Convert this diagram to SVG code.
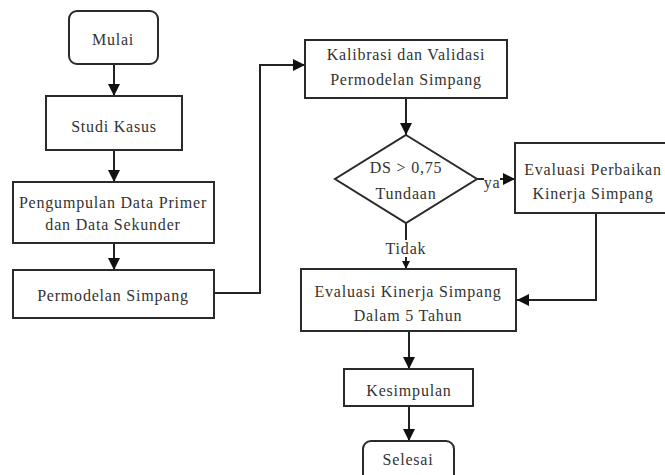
<svg xmlns="http://www.w3.org/2000/svg" width="665" height="475" viewBox="0 0 665 475">
<style>
.box{fill:#fff;stroke:#2a2a2a;stroke-width:2}
.ln{fill:none;stroke:#222;stroke-width:2}
.t{font-family:"Liberation Serif","Times New Roman",serif;font-size:16px;letter-spacing:0.8px;fill:#333;text-anchor:middle}
</style>
<defs>
<marker id="ah" viewBox="0 0 12 12" refX="12" refY="6" markerWidth="12" markerHeight="12" markerUnits="userSpaceOnUse" orient="auto">
<path d="M0,0 L12,6 L0,12 Z" fill="#111"/>
</marker>
<marker id="ahs" viewBox="0 0 8 8" refX="8" refY="4" markerWidth="8" markerHeight="8" markerUnits="userSpaceOnUse" orient="auto">
<path d="M0,0 L8,4 L0,8 Z" fill="#111"/>
</marker>
</defs>
<rect width="665" height="475" fill="#fff"/>
<g id="connectors">
<path class="ln" d="M114,64 V96" marker-end="url(#ah)"/>
<path class="ln" d="M114,150 V182" marker-end="url(#ah)"/>
<path class="ln" d="M114,243 V270" marker-end="url(#ah)"/>
<path class="ln" d="M214,293 H260 V65 H305" marker-end="url(#ah)"/>
<path class="ln" d="M406,98 V135" marker-end="url(#ah)"/>
<path class="ln" d="M477,179 H515" marker-end="url(#ah)"/>
<path class="ln" d="M406,223 V269" marker-end="url(#ahs)"/>
<path class="ln" d="M596,213 V300 H517" marker-end="url(#ah)"/>
<path class="ln" d="M409,331 V369" marker-end="url(#ah)"/>
<path class="ln" d="M409,406 V441" marker-end="url(#ah)"/>
<rect x="484" y="172" width="16" height="18" fill="#fff"/>
<text class="t" x="492" y="188">ya</text>
<rect x="384" y="240" width="44" height="17" fill="#fff"/>
<text class="t" x="406" y="254">Tidak</text>
</g>
<g id="mulai"><rect class="box" x="69" y="11" width="89" height="53" rx="8"/><text class="t" x="113" y="45">Mulai</text></g>
<g id="studi"><rect class="box" x="46" y="96" width="136" height="54"/><text class="t" x="114" y="132">Studi Kasus</text></g>
<g id="pengumpulan"><rect class="box" x="13" y="182" width="201" height="61"/><text class="t" x="113" y="208">Pengumpulan Data Primer</text><text class="t" x="113" y="230">dan Data Sekunder</text></g>
<g id="permodelan"><rect class="box" x="13" y="270" width="201" height="48"/><text class="t" x="113" y="301">Permodelan Simpang</text></g>
<g id="kalibrasi"><rect class="box" x="305" y="40" width="202" height="58"/><text class="t" x="406" y="60">Kalibrasi dan Validasi</text><text class="t" x="406" y="85">Permodelan Simpang</text></g>
<g id="decision"><polygon class="box" points="406,135 477,179 406,223 335,179"/><text class="t" x="406" y="173">DS &gt; 0,75</text><text class="t" x="406" y="199">Tundaan</text></g>
<g id="perbaikan"><rect class="box" x="515" y="143" width="160" height="70"/><text class="t" x="593" y="175">Evaluasi Perbaikan</text><text class="t" x="593" y="199">Kinerja Simpang</text></g>
<g id="kinerja"><rect class="box" x="301" y="269" width="215" height="62"/><text class="t" x="408" y="297">Evaluasi Kinerja Simpang</text><text class="t" x="408" y="321">Dalam 5 Tahun</text></g>
<g id="kesimpulan"><rect class="box" x="344" y="369" width="129" height="37"/><text class="t" x="409" y="396">Kesimpulan</text></g>
<g id="selesai"><rect class="box" x="363" y="441" width="91" height="50" rx="8"/><text class="t" x="408" y="465">Selesai</text></g>
</svg>
